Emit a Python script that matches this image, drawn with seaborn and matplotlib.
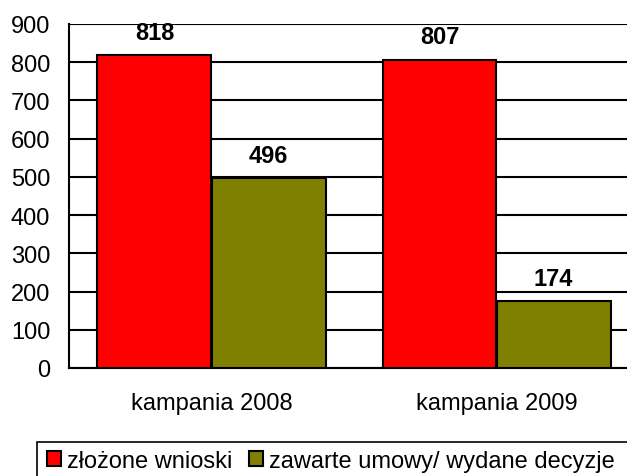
import matplotlib
matplotlib.use("Agg")
import matplotlib.pyplot as plt
import pandas as pd
import seaborn as sns
from matplotlib.patches import Rectangle

categories = ["kampania 2008", "kampania 2009"]
series_names = ["złożone wnioski", "zawarte umowy/ wydane decyzje"]
wnioski = [818, 807]
umowy = [496, 174]
yticks = [0, 100, 200, 300, 400, 500, 600, 700, 800, 900]

df = pd.DataFrame({
    "kategoria": categories * 2,
    "seria": [series_names[0]] * 2 + [series_names[1]] * 2,
    "wartosc": wnioski + umowy,
})

sns.set_style("white")
plt.rcParams["font.family"] = ["Liberation Sans", "DejaVu Sans"]
plt.rcParams["font.size"] = 17

W, H = 627, 477
fig = plt.figure(figsize=(W / 100, H / 100), dpi=100)
ax = fig.add_axes([69 / W, (H - 369) / H, 570 / W, 344 / H])

sns.barplot(data=df, x="kategoria", y="wartosc", hue="seria",
            palette=["#FF0000", "#808000"], saturation=1, width=0.8,
            edgecolor="black", linewidth=1.5, ax=ax, zorder=3)

for cont in ax.containers:
    ax.bar_label(cont, fmt="%d", padding=8, fontsize=17, fontweight="bold", color="black")

ax.set_ylim(0, 900)
ax.set_xlim(-0.5, 1.5)
ax.set_yticks(yticks)
ax.yaxis.grid(True, color="black", linewidth=1.5, zorder=0)
ax.set_axisbelow(True)
ax.set_xlabel("")
ax.set_ylabel("")

# etykiety kategorii na minor tickach, granice jako major
ax.set_xticks([-0.5, 0.5, 1.5])
ax.set_xticklabels([])
ax.set_xticks([0, 1], minor=True)
ax.set_xticklabels(categories, minor=True)
ax.tick_params(axis="x", which="minor", length=0, pad=17, labelcolor="black")
ax.tick_params(axis="x", which="major", length=5, width=1.5, color="black", direction="out")
ax.tick_params(axis="y", length=5, width=1.5, color="black", direction="out", pad=8.5,
               labelcolor="black")

for s in ["top", "right"]:
    ax.spines[s].set_visible(False)
for s in ["left", "bottom"]:
    ax.spines[s].set_color("black")
    ax.spines[s].set_linewidth(1.5)

# legenda
handles, labels = ax.get_legend_handles_labels()
ax.get_legend().remove()
leg = fig.legend(handles, labels, loc="center left", bbox_to_anchor=(47 / W, (H - 462) / H),
                 ncol=2, frameon=False, handlelength=0.6, handleheight=0.6,
                 handletextpad=0.25, columnspacing=0.68, borderaxespad=0, borderpad=0,
                 fontsize=17)
for t in leg.get_texts():
    t.set_color("black")
fig.patches.append(Rectangle((37 / W, (H - 495) / H), 620 / W, 52 / H,
                             transform=fig.transFigure, fill=False,
                             edgecolor="black", linewidth=1.2))

fig.savefig("out.png", dpi=100)
